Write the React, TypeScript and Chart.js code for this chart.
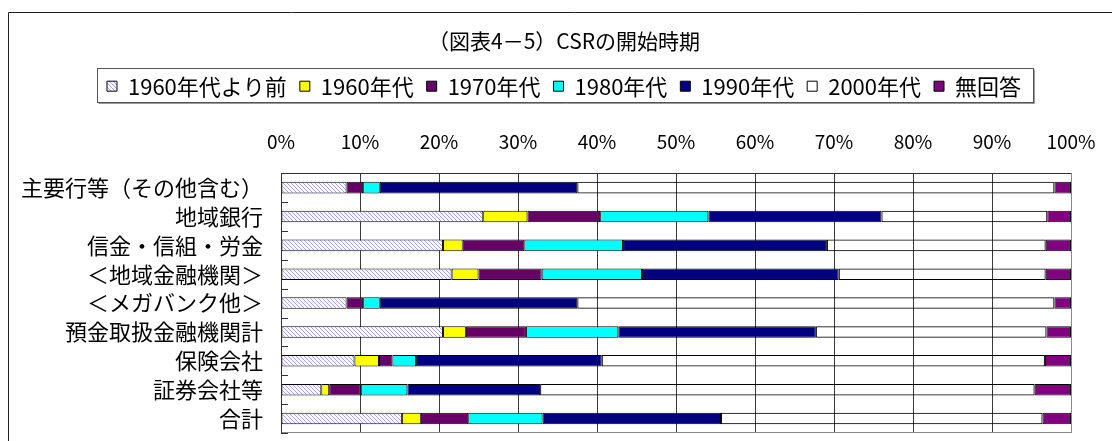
import React, { useEffect, useRef } from 'react';
import { Chart, registerables } from 'chart.js';

Chart.register(...registerables);

const FONT = '"Noto Sans CJK JP", "Noto Sans", sans-serif';

const chartTitle = '（図表4－5）CSRの開始時期';

const categories = [
  '主要行等（その他含む）',
  '地域銀行',
  '信金・信組・労金',
  '＜地域金融機関＞',
  '＜メガバンク他＞',
  '預金取扱金融機関計',
  '保険会社',
  '証券会社等',
  '合計',
];

const seriesLabels = ['1960年代より前', '1960年代', '1970年代', '1980年代', '1990年代', '2000年代', '無回答'];

const before1960 = [8.3, 25.6, 20.5, 21.6, 8.3, 20.5, 9.3, 5.1, 15.3];
const s1960 = [0, 5.6, 2.5, 3.4, 0, 2.9, 3.1, 1.0, 2.4];
const s1970 = [2.1, 9.2, 7.8, 8.0, 2.1, 7.6, 1.7, 4.0, 6.0];
const s1980 = [2.1, 13.7, 12.5, 12.7, 2.1, 11.7, 3.0, 5.9, 9.4];
const s1990 = [25.0, 21.9, 25.8, 24.9, 25.0, 25.0, 23.5, 16.8, 22.6];
const s2000 = [60.4, 21.0, 27.7, 26.2, 60.4, 29.2, 56.1, 62.6, 40.7];
const noAnswer = [2.1, 3.0, 3.2, 3.2, 2.1, 3.1, 3.3, 4.6, 3.6];

const xTickLabels = ['0%', '10%', '20%', '30%', '40%', '50%', '60%', '70%', '80%', '90%', '100%'];

const solidColors = ['HATCH', '#FFFF00', '#660066', '#00FFFF', '#000080', 'rgba(255,255,255,0)', '#800080'];

const CANVAS_W = 1140;
const CANVAS_H = 441;

function makeHatch(): CanvasPattern | string {
  const c = document.createElement('canvas');
  c.width = 4;
  c.height = 4;
  const g = c.getContext('2d');
  if (!g) return '#c8c8f8';
  g.fillStyle = '#ffffff';
  g.fillRect(0, 0, 4, 4);
  g.fillStyle = '#a2a8f0';
  for (let i = 0; i < 4; i++) g.fillRect(i, i, 1, 1);
  return g.createPattern(c, 'repeat') || '#c8c8f8';
}

const outerFrame = {
  id: 'outerFrame',
  beforeDraw(chart: any) {
    const ctx = chart.ctx;
    ctx.save();
    ctx.strokeStyle = '#222';
    ctx.lineWidth = 1;
    ctx.beginPath();
    ctx.moveTo(8.5, chart.height);
    ctx.lineTo(8.5, 12.5);
    ctx.lineTo(chart.width, 12.5);
    ctx.stroke();
    ctx.restore();
  },
};

const plotDecor = {
  id: 'plotDecor',
  afterDatasetsDraw(chart: any) {
    const { ctx, chartArea: a } = chart;
    const y = chart.scales.y;
    ctx.save();
    ctx.lineWidth = 1;
    ctx.strokeStyle = '#8a8a8a';
    ctx.beginPath();
    ctx.moveTo(Math.round(a.right) + 0.5, a.top);
    ctx.lineTo(Math.round(a.right) + 0.5, a.bottom);
    ctx.moveTo(a.left, Math.round(a.bottom) - 0.5);
    ctx.lineTo(a.right, Math.round(a.bottom) - 0.5);
    ctx.stroke();
    ctx.strokeStyle = '#333';
    ctx.beginPath();
    ctx.moveTo(a.left, Math.round(a.top) + 0.5);
    ctx.lineTo(a.right, Math.round(a.top) + 0.5);
    ctx.moveTo(Math.round(a.left) + 0.5, a.top);
    ctx.lineTo(Math.round(a.left) + 0.5, a.bottom);
    ctx.stroke();
    const n = categories.length;
    ctx.beginPath();
    for (let i = 0; i <= n; i++) {
      const p = y.getPixelForValue(i - 0.5);
      const py = Math.round(p) + 0.5;
      ctx.moveTo(a.left, py);
      ctx.lineTo(a.left + 7, py);
    }
    ctx.stroke();
    ctx.restore();
  },
};

const legendFrame = {
  id: 'legendFrame',
  afterDraw(chart: any) {
    const lg = chart.legend;
    if (!lg || !lg.legendHitBoxes || !lg.legendHitBoxes.length) return;
    const hb = lg.legendHitBoxes;
    let l = Infinity, r = -Infinity, t = Infinity, b = -Infinity;
    hb.forEach((h: any) => {
      l = Math.min(l, h.left);
      r = Math.max(r, h.left + h.width);
      t = Math.min(t, h.top);
      b = Math.max(b, h.top + h.height);
    });
    const ctx = chart.ctx;
    ctx.save();
    const x0 = Math.round(l - 10) + 0.5;
    const x1 = Math.round(r + 12) + 0.5;
    const y0 = Math.round(t - 7) + 0.5;
    const y1 = Math.round(b + 5) + 0.5;
    ctx.strokeStyle = '#555';
    ctx.lineWidth = 1;
    ctx.strokeRect(x0, y0, x1 - x0, y1 - y0);
    ctx.strokeStyle = '#999';
    ctx.beginPath();
    ctx.moveTo(x1 + 1, y0 + 1);
    ctx.lineTo(x1 + 1, y1 + 1);
    ctx.lineTo(x0 + 1, y1 + 1);
    ctx.stroke();
    ctx.restore();
  },
};

export default function App() {
  const ref = useRef<HTMLCanvasElement>(null);

  useEffect(() => {
    const canvas = ref.current;
    if (!canvas) return;
    const hatch = makeHatch();
    const seriesData = [before1960, s1960, s1970, s1980, s1990, s2000, noAnswer];
    const datasets = seriesLabels.map((label, i) => ({
      label,
      data: seriesData[i],
      backgroundColor: solidColors[i] === 'HATCH' ? hatch : solidColors[i],
      borderColor: '#000',
      borderWidth: 1,
      borderSkipped: false,
      barPercentage: 0.4,
      categoryPercentage: 1,
      xAxisID: 'x',
      yAxisID: 'y',
    }));

    const chart = new Chart(canvas, {
      type: 'bar',
      data: { labels: categories, datasets: datasets as any },
      options: {
        indexAxis: 'y',
        responsive: false,
        animation: false,
        color: '#000',
        layout: { padding: { left: 0, right: 12, top: 0, bottom: 8 } },
        plugins: {
          title: {
            display: true,
            text: chartTitle,
            color: '#000',
            font: { family: FONT, size: 21, weight: 'normal' },
            padding: { top: 28, bottom: 9 },
          },
          legend: {
            display: true,
            position: 'top',
            labels: {
              boxWidth: 10,
              boxHeight: 10,
              padding: 13,
              color: '#000',
              font: { family: FONT, size: 22 },
            },
          },
          tooltip: { enabled: false },
        },
        scales: {
          x: {
            type: 'linear',
            position: 'top',
            stacked: true,
            min: 0,
            max: 100,
            ticks: {
              stepSize: 10,
              padding: 20,
              color: '#000',
              font: { family: FONT, size: 19 },
              callback: (_v: any, i: number) => xTickLabels[i],
            },
            grid: { drawTicks: false, color: '#3a3a3a', lineWidth: 1 },
            border: { display: false },
            afterFit: (s: any) => {
              s.height = 66;
              s.paddingLeft = 0;
              s.paddingRight = 0;
            },
          },
          y: {
            type: 'category',
            position: 'left',
            stacked: true,
            ticks: {
              autoSkip: false,
              padding: 18,
              color: '#000',
              font: { family: FONT, size: 22 },
            },
            grid: { display: false, drawTicks: false },
            border: { display: false },
            afterFit: (s: any) => {
              s.width = 281;
              s.paddingTop = 0;
              s.paddingBottom = 0;
            },
          },
          yRightSpacer: {
            type: 'category',
            position: 'right',
            labels: [''],
            ticks: { display: false },
            grid: { display: false, drawTicks: false },
            border: { display: false },
            afterFit: (s: any) => {
              s.width = 57;
              s.paddingTop = 0;
              s.paddingBottom = 0;
            },
          },
        },
      },
      plugins: [outerFrame, plotDecor, legendFrame],
    } as any);

    return () => chart.destroy();
  }, []);

  return (
    <div style={{ position: 'fixed', left: 0, top: 0, width: CANVAS_W, height: CANVAS_H }}>
      <canvas
        ref={ref}
        width={CANVAS_W}
        height={CANVAS_H}
        style={{ display: 'block', width: CANVAS_W, height: CANVAS_H }}
      />
    </div>
  );
}
